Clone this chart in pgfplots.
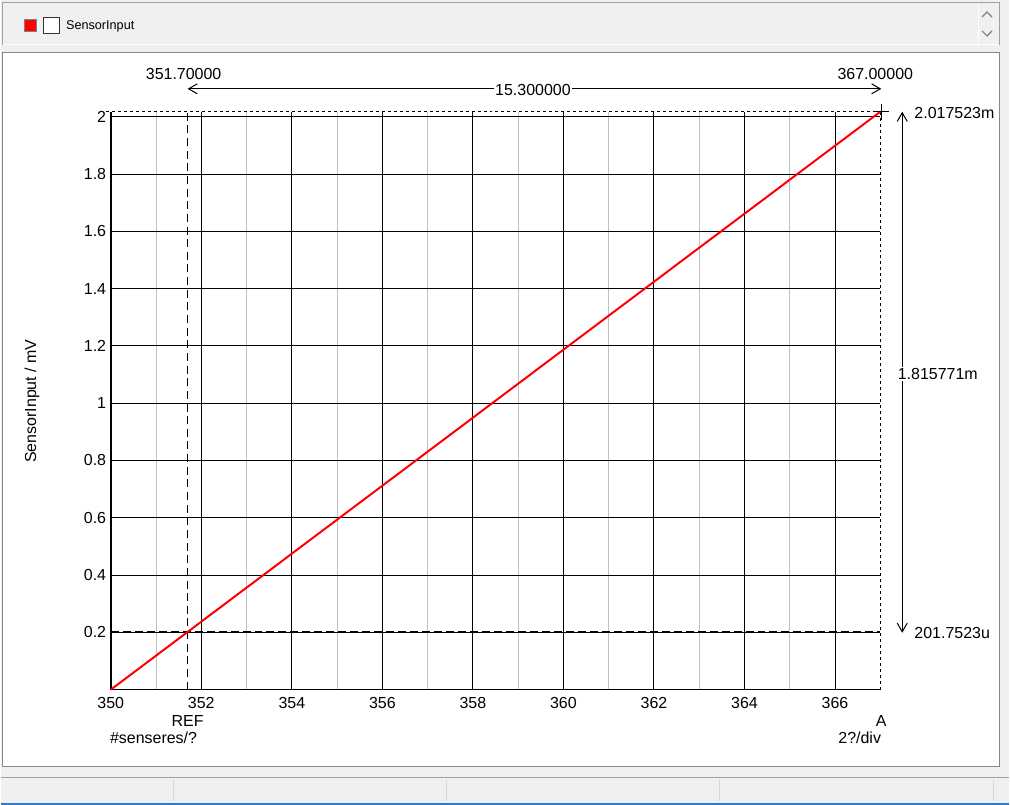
\documentclass[border=0pt]{standalone}
\usepackage{fontspec}
\setmainfont{Liberation Sans}
\usepackage{pgfplots}
\pgfplotsset{compat=1.18}
\usetikzlibrary{arrows.meta}
\definecolor{winbg}{RGB}{240,240,240}
\definecolor{panelframe}{RGB}{160,160,160}
\definecolor{boxframe}{RGB}{130,135,144}
\definecolor{minorgrid}{RGB}{192,192,192}
\definecolor{sep}{RGB}{214,214,214}
\definecolor{winblue}{RGB}{43,121,208}

\begin{document}
\begin{tikzpicture}[x=0.75pt,y=0.75pt,font=\fontsize{12}{14}\selectfont]
% window background (1 unit = 1 px, y measured from bottom)
\fill[winbg] (0,0) rectangle (1010,806);
% top legend panel
\draw[panelframe,fill=winbg,line width=0.75pt] (2,{806-45}) -- (2,{806-3}) -- (1000,{806-3}) -- (1000,{806-45});
\draw[white,line width=0.75pt] (2,{806-45}) -- (1000,{806-45});
\draw[white,line width=0.75pt] (979,{806-4}) -- (979,{806-45});
\draw[gray,line width=0.9pt] (983,{806-17}) -- (988,{806-12}) -- (993,{806-17});
\draw[gray,line width=0.9pt] (983,{806-31}) -- (988,{806-36}) -- (993,{806-31});
\filldraw[fill=red,draw=gray,line width=0.75pt] (24,{806-32}) rectangle (36,{806-20});
\filldraw[fill=white,draw=black!80,line width=0.75pt] (43,{806-34}) rectangle (59,{806-18});
\node[anchor=west,inner sep=0pt,font=\fontsize{9.5}{11}\selectfont] at (65,{806-26}) {SensorInput};
% main plot panel
\filldraw[fill=white,draw=boxframe,line width=0.75pt] (2,{806-768}) rectangle (1000,{806-53});
% status bar
\draw[panelframe,line width=1pt] (0,{806-779}) -- (1010,{806-779});
\foreach \s in {173,446,720,994} \draw[sep,line width=0.75pt] (\s,{806-782}) -- (\s,{806-803});
\draw[winblue,line width=1.5pt] (0,0.75) -- (1010,0.75);

\begin{axis}[
  at={(82.5pt,86.25pt)}, anchor=south west,
  scale only axis,
  width=578.25pt, height=434.25pt,
  xmin=350, xmax=367, ymin=0, ymax=2.017523,
  axis x line*=bottom, axis y line*=left,
  x axis line style={-,line width=0.75pt},
  y axis line style={-,line width=1.5pt},
  xtick={350,352,...,366},
  minor xtick={351,353,...,365},
  ytick={0.2,0.4,0.6,0.8,1,1.2,1.4,1.6,1.8,2},
  grid=both,
  major grid style={black,line width=0.75pt},
  minor grid style={minorgrid,line width=0.75pt},
  major tick length=0pt, minor tick length=0pt,
  tick style={draw=none},
  ticklabel style={font=\fontsize{12}{14}\selectfont},
  xticklabel style={yshift=-2pt},
  /pgf/number format/assume math mode=true,
  clip=false,
]
% cursors and frame
\addplot[black,line width=0.75pt,dash pattern=on 2.25pt off 2.25pt] coordinates {(349.9,2.017523) (367,2.017523)};
\addplot[black,line width=0.75pt,dash pattern=on 2.25pt off 2.25pt] coordinates {(367,0) (367,2.017523)};
\addplot[black,line width=0.75pt,dash pattern=on 6pt off 3.5pt] coordinates {(351.7,0) (351.7,2.017523)};
\addplot[black,line width=1pt,dash pattern=on 6pt off 3pt] coordinates {(350,0.2017523) (367,0.2017523)};
% SensorInput trace
\addplot[red,line width=1.5pt] coordinates {
(350,0) (351,0.1187) (352,0.2374) (353,0.3560) (354,0.4747) (355,0.5934)
(356,0.7121) (357,0.8307) (358,0.9494) (359,1.0681) (360,1.1868) (361,1.3055)
(362,1.4241) (363,1.5428) (364,1.6615) (365,1.7802) (366,1.8988) (367,2.017523)};
\end{axis}

% cursor cross
\draw[black,line width=0.75pt] (874,{806-112}) -- (890,{806-112});
\draw[black,line width=0.75pt] (882,{806-104}) -- (882,{806-120});
% horizontal measurement
\draw[black,line width=0.75pt,{Straight Barb[length=6.5pt,width=7.5pt]}-{Straight Barb[length=6.5pt,width=7.5pt]}] (187,{806-89}) -- (882,{806-89});
\node[fill=white,inner sep=1pt] at (533,{806-90}) {15.300000};
\node[inner sep=0pt] at (183,{806-74}) {351.70000};
\node[inner sep=0pt] at (876,{806-74}) {367.00000};
% vertical measurement
\draw[black,line width=0.75pt,{Straight Barb[length=6.5pt,width=7.5pt]}-{Straight Barb[length=6.5pt,width=7.5pt]}] (903,{806-112}) -- (903,{806-634});
\node[anchor=west,fill=white,inner sep=1pt] at (897,{806-375}) {1.815771m};
\node[anchor=west,inner sep=0pt] at (915,{806-113}) {2.017523m};
\node[anchor=west,inner sep=0pt] at (915,{806-634}) {201.7523u};
% cursor labels
\node[inner sep=0pt] at (187,{806-722}) {REF};
\node[anchor=west,inner sep=0pt] at (109,{806-739}) {\#senseres/?};
\node[inner sep=0pt] at (882,{806-722}) {A};
\node[anchor=east,inner sep=0pt] at (882,{806-739}) {2?/div};
% y label
\node[rotate=90,inner sep=0pt] at (31,{806-402}) {SensorInput / mV};
\end{tikzpicture}
\end{document}
